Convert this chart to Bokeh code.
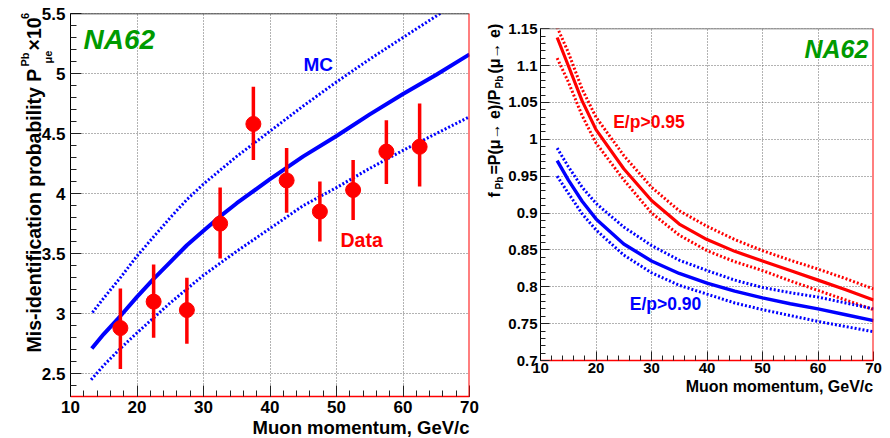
import math
from bokeh.plotting import figure
from bokeh.models import Label, Span, SingleIntervalTicker, CustomJSTickFormatter, Range1d
from bokeh.layouts import row, column
from bokeh.embed import file_html
from bokeh.resources import INLINE

# ---------------- data: left panel ----------------
data_p = [17.5, 22.5, 27.5, 32.5, 37.5, 42.5, 47.5, 52.5, 57.5, 62.5]
data_val = [2.88, 3.10, 3.03, 3.75, 4.58, 4.11, 3.85, 4.03, 4.35, 4.39]
data_lo = [2.54, 2.80, 2.75, 3.46, 4.28, 3.84, 3.60, 3.78, 4.08, 4.06]
data_hi = [3.21, 3.41, 3.30, 4.05, 4.89, 4.38, 4.10, 4.28, 4.61, 4.75]

mc_p = [13.2, 15, 17.5, 20, 22.5, 25, 27.5, 30, 32.5, 35, 40, 45, 50, 55, 60, 65, 70]
mc_val = [2.71, 2.83, 2.98, 3.14, 3.29, 3.43, 3.57, 3.69, 3.81, 3.92, 4.12, 4.31, 4.48, 4.66, 4.83, 4.99, 5.16]

mc_up_p = [13.3, 15, 17.5, 20, 22.5, 25, 27.5, 30, 35, 40, 45, 50, 55, 60, 65.6]
mc_up = [3.01, 3.13, 3.30, 3.48, 3.64, 3.80, 3.95, 4.08, 4.31, 4.52, 4.73, 4.93, 5.12, 5.30, 5.50]

mc_lo_p = [13.1, 15, 17.5, 20, 25, 30, 35, 40, 45, 50, 55, 60, 65, 70]
mc_lo = [2.45, 2.57, 2.71, 2.84, 3.09, 3.32, 3.52, 3.71, 3.90, 4.05, 4.21, 4.36, 4.50, 4.64]

# ---------------- data: right panel ----------------
f_p = [13, 15, 17.5, 20, 25, 30, 35, 40, 45, 50, 55, 60, 65, 70]
red_mid = [1.138, 1.100, 1.052, 1.013, 0.960, 0.917, 0.885, 0.864, 0.848, 0.835, 0.822, 0.809, 0.796, 0.782]
red_up = [1.152, 1.118, 1.068, 1.030, 0.978, 0.935, 0.903, 0.882, 0.864, 0.849, 0.836, 0.824, 0.811, 0.797]
red_lo = [1.110, 1.078, 1.032, 0.995, 0.945, 0.900, 0.870, 0.849, 0.834, 0.822, 0.808, 0.795, 0.782, 0.769]
blue_mid = [0.971, 0.945, 0.916, 0.892, 0.858, 0.835, 0.818, 0.805, 0.794, 0.785, 0.777, 0.770, 0.762, 0.754]
blue_up = [0.988, 0.963, 0.935, 0.913, 0.881, 0.856, 0.836, 0.822, 0.809, 0.799, 0.792, 0.786, 0.778, 0.770]
blue_lo = [0.950, 0.927, 0.899, 0.877, 0.843, 0.819, 0.802, 0.790, 0.778, 0.769, 0.761, 0.753, 0.746, 0.739]

FONT = "Liberation Sans"
BLUE = "#0000ff"
RED = "#ff0000"
GREEN = "#009a00"

fmt = CustomJSTickFormatter(code="return Number(tick.toFixed(2)).toString();")


def style(p, xint, yint, lab_size, tick_major, tick_minor):
    p.outline_line_color = None
    p.background_fill_color = "white"
    p.border_fill_color = "white"
    p.xaxis.ticker = SingleIntervalTicker(interval=xint, num_minor_ticks=5)
    p.yaxis.ticker = SingleIntervalTicker(interval=yint, num_minor_ticks=5)
    p.xgrid.ticker = p.xaxis.ticker
    p.ygrid.ticker = p.yaxis.ticker
    for ax in (p.xaxis, p.yaxis):
        ax.formatter = fmt
        ax.major_tick_in = tick_major
        ax.major_tick_out = 0
        ax.minor_tick_in = tick_minor
        ax.minor_tick_out = 0
        ax.major_tick_line_color = "#222222"
        ax.minor_tick_line_color = "#222222"
        ax.major_label_text_font = FONT
        ax.major_label_text_font_style = "bold"
        ax.major_label_text_font_size = lab_size
        ax.major_label_text_color = "black"
    p.xaxis.axis_line_color = RED
    p.xaxis.axis_line_width = 1.5
    p.yaxis.axis_line_color = "black"
    p.yaxis.axis_line_width = 1
    for g in (p.xgrid, p.ygrid):
        g.grid_line_color = "#666666"
        g.grid_line_dash = "1 2"
        g.grid_line_width = 1


def mlabel(p, fx, fy, px, py, text, size, color="black", style_="bold", angle=0.0, align="left"):
    # label anchored at the vertical middle of its text; position in page pixels
    p.add_layout(Label(x=fx(px), y=fy(py), text=text, text_font=FONT, text_font_style=style_,
                       text_font_size=size, text_color=color, angle=angle,
                       text_align=align, text_baseline="middle"))


# ---------------- left figure ----------------
p1 = figure(frame_width=399, frame_height=383, output_backend="svg", toolbar_location=None,
            x_range=Range1d(10, 70), y_range=Range1d(2.31, 5.5001),
            min_border_left=70, min_border_right=11, min_border_top=13, min_border_bottom=42)
p1.frame_align = False
style(p1, 10, 0.5, "17px", 11, 6)
p1.yaxis.major_label_standoff = 5
p1.xaxis.major_label_standoff = 4
p1.border_fill_alpha = 0

def lx(px):
    return 10 + (px - 70) * 60.0 / 399.0

def ly(py):
    return 5.5 - (py - 13) * (5.5 - 2.31) / 383.0

p1.line(mc_up_p, mc_up, line_color=BLUE, line_width=3, line_dash="2 2")
p1.line(mc_lo_p, mc_lo, line_color=BLUE, line_width=3, line_dash="2 2")
p1.line(mc_p, mc_val, line_color=BLUE, line_width=4)
p1.segment(x0=data_p, y0=data_lo, x1=data_p, y1=data_hi, line_color=RED, line_width=3.5)
p1.scatter(data_p, data_val, size=15, fill_color=RED, line_color=RED)

p1.add_layout(Span(location=5.5001, dimension="width", line_color="black", line_width=1.5))
p1.add_layout(Span(location=70, dimension="height", line_color=RED, line_width=2))

mlabel(p1, lx, ly, 83, 39, "NA62", "28px", GREEN, "bold italic")
mlabel(p1, lx, ly, 303, 64, "MC", "19px", BLUE)
mlabel(p1, lx, ly, 340, 239, "Data", "19.5px", RED)

# ---------------- right figure ----------------
p2 = figure(frame_width=333, frame_height=332, output_backend="svg", toolbar_location=None,
            x_range=Range1d(10, 70), y_range=Range1d(0.7, 1.1502),
            min_border_left=60, min_border_right=17, min_border_top=28, min_border_bottom=78)
p2.frame_align = False
style(p2, 10, 0.05, "15px", 9, 5)
p2.yaxis.major_label_standoff = 3
p2.xaxis.major_label_standoff = 2
p2.border_fill_alpha = 0

def rx(px):
    return 10 + (px - 540) * 60.0 / 333.0

def ry(py):
    return 1.15 - (py - 28) * 0.45 / 332.0

p2.line(f_p, red_up, line_color=RED, line_width=3, line_dash="2 2")
p2.line(f_p, red_lo, line_color=RED, line_width=3, line_dash="2 2")
p2.line(f_p, red_mid, line_color=RED, line_width=3.2)
p2.line(f_p, blue_up, line_color=BLUE, line_width=3, line_dash="2 2")
p2.line(f_p, blue_lo, line_color=BLUE, line_width=3, line_dash="2 2")
p2.line(f_p, blue_mid, line_color=BLUE, line_width=3.4)

p2.add_layout(Span(location=1.1502, dimension="width", line_color="#555555", line_width=1.5))
p2.add_layout(Span(location=70, dimension="height", line_color=RED, line_width=2))

mlabel(p2, rx, ry, 804, 48.5, "NA62", "25px", GREEN, "bold italic")
mlabel(p2, rx, ry, 612.7, 121, "E/p>0.95", "17.5px", RED)
mlabel(p2, rx, ry, 629.3, 303.5, "E/p>0.90", "17.5px", BLUE)

# ---------------- transparent text overlay for axis titles ----------------
tf = figure(width=890, height=438, output_backend="svg", toolbar_location=None,
            x_range=Range1d(0, 890), y_range=Range1d(438, 0),
            x_axis_location=None, y_axis_location=None,
            min_border_left=0, min_border_right=0, min_border_top=0, min_border_bottom=0)
tf.frame_align = False
tf.grid.visible = False
tf.outline_line_color = None
tf.background_fill_alpha = 0
tf.border_fill_alpha = 0
tf.margin = (-438, 0, 0, 0)

ident = lambda v: v
A = math.pi / 2
# left panel titles
mlabel(tf, ident, ident, 469, 426.5, "Muon momentum, GeV/c", "18.5px", align="right")
mlabel(tf, ident, ident, 33, 352, "Mis-identification probability P", "19.5px", angle=A)
mlabel(tf, ident, ident, 24.5, 66, "Pb", "11px", angle=A)
mlabel(tf, ident, ident, 47, 63, "\u03bce", "11px", angle=A)
mlabel(tf, ident, ident, 33, 50, "\u00d710", "19.5px", angle=A)
mlabel(tf, ident, ident, 24.5, 18.5, "6", "11px", angle=A)

# right panel titles
mlabel(tf, ident, ident, 872.7, 385.7, "Muon momentum, GeV/c", "16px", align="right")
mlabel(tf, ident, ident, 494.2, 197, "f", "16px", angle=A)
mlabel(tf, ident, ident, 498.5, 189, "Pb", "10px", angle=A)
mlabel(tf, ident, ident, 494.2, 174, "=P(\u03bc\u2192 e)/P", "16px", angle=A)
mlabel(tf, ident, ident, 498.5, 88, "Pb", "10px", angle=A)
mlabel(tf, ident, ident, 494.2, 73, "(\u03bc\u2192 e)", "16px", angle=A)

layout = column(row(p1, p2), tf)
open("out.html", "w").write(file_html(layout, INLINE))
